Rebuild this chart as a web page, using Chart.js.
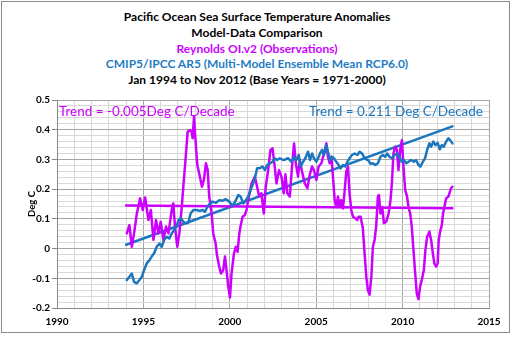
<!DOCTYPE html>
<html lang="en">
<head>
    <meta charset="UTF-8">
    <title>Pacific Ocean SST Anomalies</title>
    <script src="https://cdn.jsdelivr.net/npm/chart.js"></script>
    <style>
        html, body { margin: 0; padding: 0; background: #fff; }
        #wrap { position: relative; width: 514px; height: 337px; overflow: hidden; }
        #frame { position: absolute; left: 1px; top: 1px; width: 509px; height: 332px; border: 1px solid #8c8c8c; box-sizing: border-box; }
        #titles { position: absolute; left: 0; top: 9px; width: 514px; text-align: center;
                  font-family: Lato, "Open Sans", sans-serif; font-weight: bold; font-size: 12px; line-height: 15.8px; }
        #titles div { white-space: nowrap; }
        .obs { color: #cc00ff; }
        .model { color: #1f7cc4; }
        canvas { position: absolute; left: 0; top: 0; }
    </style>
</head>
<body>
    <div id="wrap">
        <div id="frame"></div>
        <div id="titles">
            <div>Pacific Ocean Sea Surface Temperature Anomalies</div>
            <div>Model-Data Comparison</div>
            <div class="obs">Reynolds OI.v2 (Observations)</div>
            <div class="model">CMIP5/IPCC AR5 (Multi-Model Ensemble Mean RCP6.0)</div>
            <div>Jan 1994 to Nov 2012 (Base Years = 1971-2000)</div>
        </div>
        <canvas id="sstChart" width="514" height="337"></canvas>
    </div>

    <script>
        // Reynolds OI.v2 observations (deg C anomaly)
        const obsYears = [1994.04, 1994.19, 1994.33, 1994.46, 1994.62, 1994.81, 1994.96, 1995.1, 1995.29, 1995.43,
            1995.58, 1995.73, 1995.87, 1996.0, 1996.16, 1996.31, 1996.45, 1996.64, 1996.73, 1996.83,
            1996.96, 1997.08, 1997.22, 1997.31, 1997.45, 1997.56, 1997.7, 1997.79, 1997.85, 1997.93,
            1998.0, 1998.12, 1998.27, 1998.39, 1998.5, 1998.62, 1998.72, 1998.81, 1998.95, 1999.04,
            1999.18, 1999.27, 1999.39, 1999.49, 1999.62, 1999.72, 1999.81, 1999.91, 2000.01, 2000.1,
            2000.24, 2000.35, 2000.45, 2000.55, 2000.62, 2000.74, 2000.87, 2000.97, 2001.06, 2001.26,
            2001.45, 2001.58, 2001.7, 2001.83, 2001.97, 2002.08, 2002.22, 2002.35, 2002.47, 2002.6,
            2002.7, 2002.85, 2002.99, 2003.12, 2003.22, 2003.33, 2003.47, 2003.6, 2003.72, 2003.82,
            2003.95, 2004.05, 2004.18, 2004.34, 2004.49, 2004.62, 2004.76, 2004.87, 2005.01, 2005.14,
            2005.3, 2005.45, 2005.59, 2005.68, 2005.78, 2005.88, 2005.97, 2006.07, 2006.16, 2006.26,
            2006.36, 2006.45, 2006.55, 2006.65, 2006.74, 2006.84, 2006.93, 2007.03, 2007.13, 2007.26,
            2007.38, 2007.45, 2007.57, 2007.7, 2007.8, 2007.9, 2007.99, 2008.09, 2008.19, 2008.28,
            2008.38, 2008.47, 2008.57, 2008.63, 2008.72, 2008.82, 2008.92, 2009.05, 2009.19, 2009.3,
            2009.38, 2009.47, 2009.57, 2009.67, 2009.76, 2009.86, 2009.96, 2010.05, 2010.15, 2010.26,
            2010.34, 2010.44, 2010.53, 2010.63, 2010.73, 2010.82, 2010.92, 2011.01, 2011.11, 2011.23,
            2011.32, 2011.42, 2011.55, 2011.65, 2011.75, 2011.84, 2011.94, 2012.03, 2012.09, 2012.19,
            2012.27, 2012.34, 2012.42, 2012.52, 2012.65, 2012.8, 2012.88];
        const obsValues = [0.051, 0.079, 0.006, 0.051, 0.118, 0.169, 0.130, 0.172, 0.096, 0.130,
            0.029, 0.096, 0.051, 0.090, 0.029, 0.074, 0.051, 0.130, 0.152, 0.074,
            0.006, 0.051, 0.140, 0.208, 0.309, 0.393, 0.399, 0.393, 0.371, 0.444,
            0.377, 0.281, 0.242, 0.208, 0.231, 0.287, 0.264, 0.175, 0.118, 0.051,
            0.017, -0.027, -0.061, -0.084, -0.072, -0.027, -0.072, -0.128, -0.165, -0.084,
            -0.016, 0.006, -0.011, 0.051, 0.074, 0.107, 0.113, 0.130, 0.163, 0.219,
            0.242, 0.208, 0.175, 0.186, 0.118, 0.208, 0.264, 0.332, 0.337, 0.276,
            0.219, 0.264, 0.242, 0.186, 0.250, 0.186, 0.175, 0.276, 0.354, 0.287,
            0.242, 0.298, 0.259, 0.219, 0.203, 0.247, 0.276, 0.264, 0.231, 0.276,
            0.287, 0.320, 0.354, 0.309, 0.287, 0.309, 0.242, 0.163, 0.140, 0.175,
            0.140, 0.163, 0.135, 0.197, 0.259, 0.276, 0.186, 0.130, 0.107, 0.102,
            0.096, 0.107, 0.107, 0.068, -0.016, -0.095, -0.140, -0.155, -0.095, 0.006,
            0.029, 0.074, 0.175, 0.180, 0.118, 0.140, 0.085, 0.090, 0.118, 0.163,
            0.219, 0.320, 0.343, 0.332, 0.264, 0.332, 0.365, 0.276, 0.197, 0.175,
            0.140, 0.118, 0.074, -0.005, -0.084, -0.151, -0.170, -0.128, -0.106, -0.072,
            -0.005, 0.040, 0.057, 0.029, -0.016, -0.050, -0.061, -0.050, 0.029, 0.062,
            0.079, 0.118, 0.140, 0.169, 0.175, 0.203, 0.208];

        // CMIP5 multi-model ensemble mean, RCP6.0 (deg C anomaly)
        const modelYears = [1994.04, 1994.19, 1994.33, 1994.46, 1994.62, 1994.77, 1994.91, 1995.04, 1995.19, 1995.35,
            1995.48, 1995.62, 1995.77, 1995.93, 1996.06, 1996.2, 1996.35, 1996.5, 1996.64, 1996.77,
            1996.93, 1997.04, 1997.16, 1997.31, 1997.45, 1997.6, 1997.73, 1997.89, 1998.08, 1998.27,
            1998.43, 1998.56, 1998.7, 1998.85, 1999.0, 1999.2, 1999.39, 1999.58, 1999.77, 1999.97,
            2000.16, 2000.35, 2000.49, 2000.62, 2000.78, 2000.93, 2001.06, 2001.2, 2001.31, 2001.45,
            2001.58, 2001.74, 2001.89, 2002.03, 2002.16, 2002.32, 2002.47, 2002.6, 2002.74, 2002.89,
            2003.08, 2003.22, 2003.37, 2003.57, 2003.72, 2003.85, 2003.99, 2004.1, 2004.24, 2004.37,
            2004.53, 2004.64, 2004.76, 2004.87, 2005.01, 2005.11, 2005.22, 2005.34, 2005.45, 2005.59,
            2005.68, 2005.8, 2005.91, 2006.03, 2006.16, 2006.3, 2006.41, 2006.55, 2006.68, 2006.8,
            2006.93, 2007.07, 2007.22, 2007.38, 2007.51, 2007.65, 2007.76, 2007.9, 2008.03, 2008.15,
            2008.28, 2008.42, 2008.57, 2008.72, 2008.86, 2008.99, 2009.11, 2009.24, 2009.38, 2009.53,
            2009.69, 2009.82, 2009.96, 2010.07, 2010.21, 2010.34, 2010.49, 2010.65, 2010.78, 2010.92,
            2011.03, 2011.17, 2011.3, 2011.42, 2011.55, 2011.65, 2011.78, 2011.9, 2012.03, 2012.15,
            2012.27, 2012.38, 2012.52, 2012.65, 2012.75, 2012.88];
        const modelValues = [-0.106, -0.095, -0.084, -0.112, -0.117, -0.106, -0.095, -0.072, -0.050, -0.039,
            -0.027, -0.016, 0.006, 0.017, 0.006, 0.029, 0.040, 0.034, 0.051, 0.062,
            0.079, 0.096, 0.102, 0.090, 0.085, 0.087, 0.118, 0.130, 0.130, 0.127,
            0.130, 0.124, 0.140, 0.152, 0.158, 0.154, 0.163, 0.161, 0.166, 0.158,
            0.143, 0.163, 0.180, 0.175, 0.152, 0.163, 0.175, 0.197, 0.214, 0.236,
            0.270, 0.270, 0.276, 0.264, 0.281, 0.287, 0.292, 0.304, 0.298, 0.304,
            0.298, 0.300, 0.304, 0.292, 0.309, 0.298, 0.315, 0.276, 0.292, 0.304,
            0.326, 0.298, 0.320, 0.304, 0.292, 0.304, 0.320, 0.332, 0.315, 0.348,
            0.326, 0.298, 0.309, 0.304, 0.292, 0.281, 0.270, 0.281, 0.276, 0.292,
            0.304, 0.315, 0.320, 0.315, 0.326, 0.320, 0.309, 0.300, 0.296, 0.285,
            0.287, 0.281, 0.287, 0.309, 0.315, 0.309, 0.320, 0.309, 0.304, 0.315,
            0.320, 0.307, 0.292, 0.298, 0.287, 0.292, 0.298, 0.292, 0.298, 0.281,
            0.276, 0.292, 0.304, 0.332, 0.354, 0.343, 0.360, 0.348, 0.356, 0.334,
            0.348, 0.343, 0.360, 0.371, 0.365, 0.354];

        // linear trends, deg C per decade, over Jan 1994 - Nov 2012
        const trendStart = 1994.0;
        const trendEnd = 2012.88;
        const obsTrendPerDecade = -0.005;
        const obsTrendAtStart = 0.145;
        const modelTrendPerDecade = 0.211;
        const modelTrendAtStart = 0.013;

        const obsColor = '#cc00ff';
        const modelColor = '#1b76bd';

        function toPoints(xs, ys) {
            return xs.map((x, i) => ({ x: x, y: ys[i] }));
        }

        function trendLine(startVal, perDecade) {
            return [
                { x: trendStart, y: startVal },
                { x: trendEnd, y: startVal + perDecade * (trendEnd - trendStart) / 10 }
            ];
        }

        // trend captions drawn inside the plot area
        const trendLabels = {
            id: 'trendLabels',
            afterDraw(chart) {
                const c = chart.ctx;
                const area = chart.chartArea;
                c.save();
                c.font = '13.5px Lato, "Open Sans", sans-serif';
                c.textBaseline = 'middle';
                c.fillStyle = obsColor;
                c.textAlign = 'left';
                c.fillText('Trend = ' + obsTrendPerDecade.toFixed(3) + 'Deg C/Decade', area.left + 2, area.top + 12);
                c.fillStyle = modelColor;
                c.textAlign = 'right';
                c.fillText('Trend = ' + modelTrendPerDecade.toFixed(3) + ' Deg C/Decade', area.right - 6, area.top + 12);
                c.restore();
            }
        };

        const lineStyle = {
            borderWidth: 2.5,
            pointRadius: 0,
            tension: 0,
            borderJoinStyle: 'round',
            borderCapStyle: 'round'
        };

        const ctx = document.getElementById('sstChart').getContext('2d');
        const chart = new Chart(ctx, {
            type: 'line',
            data: {
                datasets: [
                    Object.assign({ label: 'Model', data: toPoints(modelYears, modelValues), borderColor: modelColor }, lineStyle),
                    Object.assign({ label: 'Observations', data: toPoints(obsYears, obsValues), borderColor: obsColor }, lineStyle),
                    Object.assign({ label: 'Observations trend', data: trendLine(obsTrendAtStart, obsTrendPerDecade), borderColor: obsColor }, lineStyle),
                    Object.assign({ label: 'Model trend', data: trendLine(modelTrendAtStart, modelTrendPerDecade), borderColor: modelColor }, lineStyle)
                ]
            },
            options: {
                responsive: false,
                animation: false,
                layout: { padding: { left: 0, top: 100, right: 25, bottom: 0 } },
                plugins: {
                    legend: { display: false },
                    tooltip: { enabled: false }
                },
                scales: {
                    x: {
                        type: 'linear',
                        min: 1990,
                        max: 2015,
                        afterFit: (axis) => { axis.height = 29; },
                        grid: {
                            drawTicks: false,
                            color: (c) => (c.tick.value % 5 === 0 ? '#a6a6a6' : '#d9d9d9'),
                            lineWidth: 1
                        },
                        border: { color: '#868686' },
                        ticks: {
                            stepSize: 1,
                            maxTicksLimit: 100,
                            autoSkip: false,
                            maxRotation: 0,
                            padding: 8,
                            color: '#000',
                            font: { family: 'Lato, "Open Sans", sans-serif', size: 10, weight: 'bold' },
                            callback: (v) => (v % 5 === 0 ? String(v) : '')
                        }
                    },
                    y: {
                        min: -0.2,
                        max: 0.5,
                        afterFit: (axis) => { axis.width = 57; },
                        grid: {
                            tickLength: 5,
                            color: (c) => (Math.round(c.tick.value * 100) % 10 === 0 ? '#a6a6a6' : '#d9d9d9'),
                            tickColor: (c) => (Math.round(c.tick.value * 100) % 10 === 0 ? '#868686' : 'rgba(0,0,0,0)')
                        },
                        border: { color: '#868686' },
                        title: {
                            display: true,
                            text: 'Deg C',
                            color: '#000',
                            font: { family: 'Lato, "Open Sans", sans-serif', size: 9.5, weight: 'bold' },
                            padding: { top: 26, bottom: 0 }
                        },
                        ticks: {
                            stepSize: 0.02,
                            maxTicksLimit: 100,
                            autoSkip: false,
                            padding: 2,
                            color: '#000',
                            font: { family: 'Lato, "Open Sans", sans-serif', size: 10, weight: 'bold' },
                            callback: (v) => {
                                const h = Math.round(v * 100);
                                if (h % 10 !== 0) return '';
                                return h === 0 ? '0' : String(h / 100);
                            }
                        }
                    }
                }
            },
            plugins: [trendLabels]
        });
    </script>
</body>
</html>
